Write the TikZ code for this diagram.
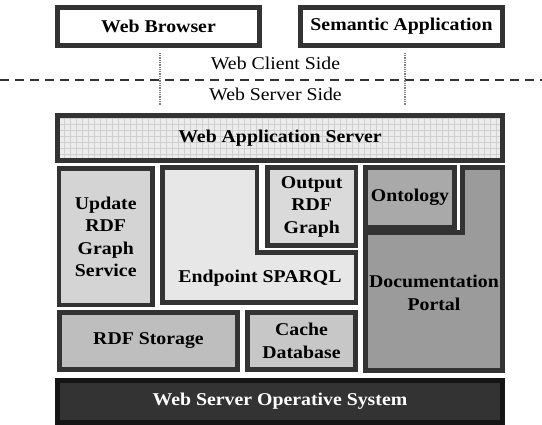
\documentclass[tikz,border=0pt]{standalone}
\usepackage{fontspec}
\setmainfont{Liberation Serif}[FakeStretch=1.1]
\newcommand{\archfont}{\fontsize{18}{22.5}\selectfont}
\definecolor{ArchEdge}{HTML}{333333}
\definecolor{ArchBlack}{HTML}{151515}
\definecolor{OsFill}{HTML}{333333}
\definecolor{GridBase}{HTML}{ECECEC}
\definecolor{GridLine}{HTML}{CFCFCF}
\definecolor{UpdateFill}{HTML}{D4D4D4}
\definecolor{EndpointFill}{HTML}{E7E7E7}
\definecolor{OutputFill}{HTML}{DADADA}
\definecolor{OntoFill}{HTML}{A9A9A9}
\definecolor{PortalFill}{HTML}{9B9B9B}
\definecolor{StorageFill}{HTML}{BEBEBE}
\definecolor{CacheFill}{HTML}{C7C7C7}
\tikzset{
  tier/.style={draw=ArchEdge,line width=4.5pt,inner sep=0pt,align=center,font=\archfont\bfseries},
  client/.style={draw=ArchEdge,line width=4.5pt,fill=white,inner sep=0pt,font=\archfont\bfseries},
  outline/.style={draw=ArchEdge,line width=4.5pt,line join=miter},
  link/.style={densely dotted,gray,line width=1.3pt,shorten <=5pt,shorten >=8pt},
  split/.style={ArchEdge,line width=1.6pt,dash pattern=on 9pt off 6pt},
  side/.style={anchor=base,font=\archfont}
}

\begin{document}
\begin{tikzpicture}[x=1pt,y=-1pt]
  \useasboundingbox (0,0) rectangle (542,425);
  % client side
  \node[client,minimum width=202pt,minimum height=38pt] (browser) at (158.5,26.5) {Web Browser};
  \node[client,minimum width=202pt,minimum height=38pt] (semantic) at (401.5,26.5) {Semantic Application};
  \node[side] (clientside) at (275.5,69.5) {Web Client Side};
  \node[side] (serverside) at (275.5,100.5) {Web Server Side};
  \coordinate (splitL) at (0,80);
  \coordinate (splitR) at (542,80);
  \draw[split] (splitL) -- (splitR);

  % server side
  \node[tier,fill=GridBase,minimum width=445pt,minimum height=45pt,
    path picture={\draw[GridLine,line width=0.6pt,step=6pt]
      (path picture bounding box.south west) grid (path picture bounding box.north east);}]
    (appserver) at (280,138) {Web Application Server};
  \draw[link] ([xshift=1.5pt]browser.south) -- ([xshift=1.5pt]browser.south |- appserver.north);
  \draw[link] ([xshift=3.5pt]semantic.south) -- ([xshift=3.5pt]semantic.south |- appserver.north);

  \node[tier,fill=UpdateFill,minimum width=93.5pt,minimum height=136.5pt] (update) at (105.75,237) {Update\\RDF\\Graph\\Service};

  \draw[outline,fill=EndpointFill] (162.5,167.5) -- (257,167.5) -- (257,252.5) -- (356,252.5)
    -- (356,302.5) -- (162.5,302.5) -- cycle;
  \node[side,font=\archfont\bfseries] (endpoint) at (260,283) {Endpoint SPARQL};
  \node[tier,fill=OutputFill,minimum width=88.5pt,minimum height=78pt] (output) at (311.75,206.5) {Output\\RDF\\Graph};

  \node[tier,fill=OntoFill,minimum width=89pt,minimum height=60pt] (ontology) at (410,197.5) {Ontology};
  \draw[outline,fill=PortalFill] (462.5,167.5) -- (502.5,167.5) -- (502.5,370.5) -- (365.5,370.5)
    -- (365.5,232.5) -- (462.5,232.5) -- cycle;
  \node[align=center,font=\archfont\bfseries] (portal) at (434,293) {Documentation\\Portal};

  \node[tier,fill=StorageFill,minimum width=178pt,minimum height=57pt] (storage) at (148.5,341) {RDF Storage};
  \node[tier,fill=CacheFill,minimum width=108pt,minimum height=57pt] (cache) at (301.5,341) {Cache\\Database};

  \node[tier,draw=ArchBlack,fill=OsFill,text=white,minimum width=445pt,minimum height=42pt] (os) at (280,401.5) {Web Server Operative System};
\end{tikzpicture}
\end{document}
